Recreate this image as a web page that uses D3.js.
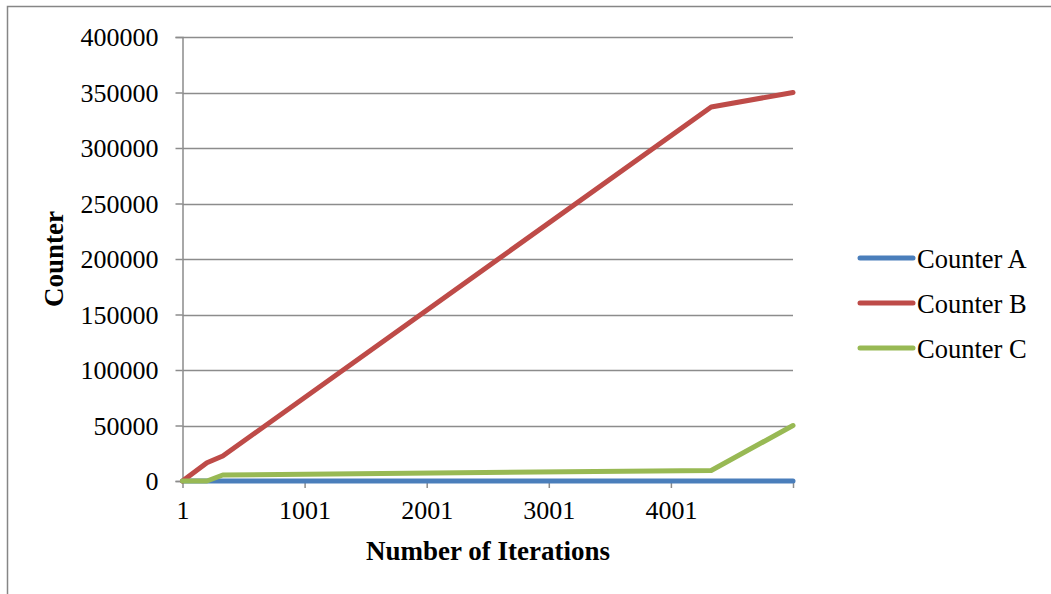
<!DOCTYPE html>
<html>
<head>
<meta charset="utf-8">
<script src="https://cdn.jsdelivr.net/npm/d3@7"></script>
<style>
  html, body { margin: 0; padding: 0; background: #fff; }
  svg { display: block; font-family: "Liberation Serif", "Times New Roman", serif; }
</style>
</head>
<body>
<svg id="chart" width="1051" height="594"></svg>
<script>
// Iteration checkpoints and counter readings
const iterations = [1, 201, 331, 4331, 5001];
const counterA = [0, 0, 0, 0, 0];
const counterB = [0, 16500, 22500, 337000, 350000];
const counterC = [0, 0, 5400, 9500, 50000];

const seriesNames = ["Counter A", "Counter B", "Counter C"];
const seriesColors = ["#4A7EBB", "#BE4B48", "#98B954"];
const xTickValues = [1, 1001, 2001, 3001, 4001, 5001];
const xTickLabels = ["1", "1001", "2001", "3001", "4001", ""];
const yTickValues = [0, 50000, 100000, 150000, 200000, 250000, 300000, 350000, 400000];

const series = [counterA, counterB, counterC].map((vals, i) => ({
  name: seriesNames[i],
  color: seriesColors[i],
  points: iterations.map((it, j) => ({ x: it, y: vals[j] }))
}));

const svg = d3.select("#chart");
const plot = { left: 182.5, right: 793, top: 37, bottom: 481 };

const x = d3.scaleLinear().domain([1, 5001]).range([plot.left, plot.right]);
const y = d3.scaleLinear().domain([0, 400000]).range([plot.bottom, plot.top]);

// chart frame
svg.append("path")
  .attr("d", "M7.5,594 L7.5,6.5 L1051,6.5")
  .attr("fill", "none")
  .attr("stroke", "#868686")
  .attr("stroke-width", 1.5);

// horizontal gridlines
svg.append("g")
  .selectAll("line")
  .data(yTickValues.filter(v => v > 0))
  .join("line")
  .attr("x1", plot.left).attr("x2", plot.right)
  .attr("y1", d => Math.round(y(d)) + 0.5).attr("y2", d => Math.round(y(d)) + 0.5)
  .attr("stroke", "#8C8C8C")
  .attr("stroke-width", 1.5);

// y axis
const yAxis = d3.axisLeft(y)
  .tickValues(yTickValues)
  .tickFormat(d3.format("d"))
  .tickSize(7)
  .tickPadding(17);
const gy = svg.append("g")
  .attr("transform", `translate(${plot.left},0)`)
  .call(yAxis);
gy.select(".domain").attr("stroke", "#8C8C8C").attr("stroke-width", 1.5);
gy.selectAll(".tick line").attr("stroke", "#8C8C8C").attr("stroke-width", 1.5);
gy.selectAll(".tick text")
  .attr("font-family", "Liberation Serif")
  .attr("font-size", 26)
  .attr("fill", "#000")
  .attr("dy", "0.33em");

// x axis
const xAxis = d3.axisBottom(x)
  .tickValues(xTickValues)
  .tickFormat((d, i) => xTickLabels[i])
  .tickSize(7)
  .tickSizeOuter(0)
  .tickPadding(13);
const gx = svg.append("g")
  .attr("transform", `translate(0,${plot.bottom})`)
  .call(xAxis);
gx.select(".domain").attr("stroke", "#8C8C8C").attr("stroke-width", 1.5);
gx.selectAll(".tick line").attr("stroke", "#8C8C8C").attr("stroke-width", 1.5);
gx.selectAll(".tick text")
  .attr("font-family", "Liberation Serif")
  .attr("font-size", 26)
  .attr("fill", "#000");

// series lines
const line = d3.line().x(d => x(d.x)).y(d => y(d.y));
svg.append("g")
  .selectAll("path")
  .data(series)
  .join("path")
  .attr("d", d => line(d.points))
  .attr("fill", "none")
  .attr("stroke", d => d.color)
  .attr("stroke-width", 5)
  .attr("stroke-linejoin", "round")
  .attr("stroke-linecap", "round");

// axis titles
svg.append("text")
  .attr("x", 488).attr("y", 560)
  .attr("text-anchor", "middle")
  .attr("font-weight", "bold")
  .attr("font-size", 27)
  .text("Number of Iterations");

svg.append("text")
  .attr("transform", "translate(63,259) rotate(-90)")
  .attr("text-anchor", "middle")
  .attr("font-weight", "bold")
  .attr("font-size", 27)
  .text("Counter");

// legend
const legend = svg.append("g");
const legendItems = legend.selectAll("g")
  .data(series)
  .join("g")
  .attr("transform", (d, i) => `translate(0,${258 + i * 45})`);
legendItems.append("line")
  .attr("x1", 860).attr("x2", 913)
  .attr("y1", 0).attr("y2", 0)
  .attr("stroke", d => d.color)
  .attr("stroke-width", 5)
  .attr("stroke-linecap", "round");
legendItems.append("text")
  .attr("x", 917).attr("y", 10)
  .attr("font-size", 26.5)
  .attr("fill", "#000")
  .text(d => d.name);
</script>
</body>
</html>
